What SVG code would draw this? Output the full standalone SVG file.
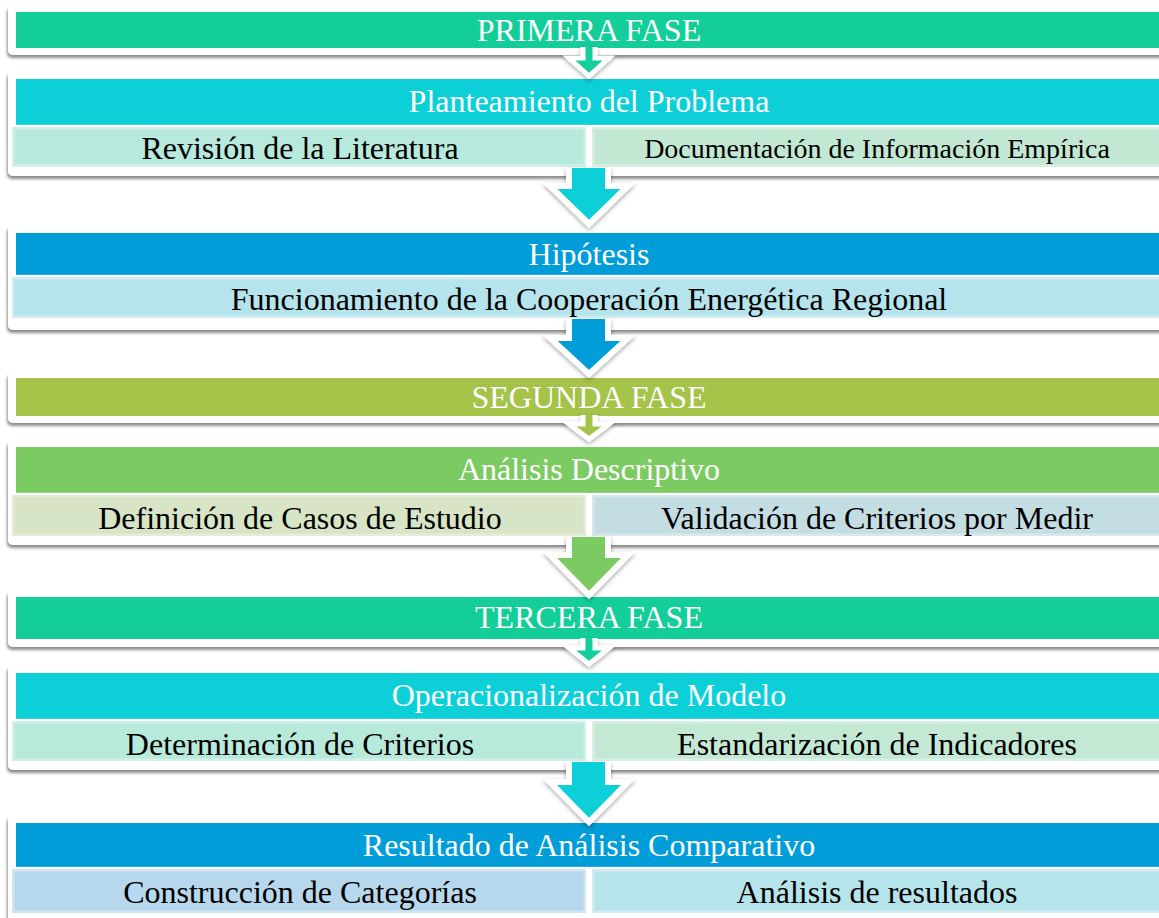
<svg xmlns="http://www.w3.org/2000/svg" width="1159" height="918" viewBox="0 0 1159 918">
<defs>
<filter id="sh" x="-5%" y="-20%" width="110%" height="150%">
<feDropShadow dx="-1" dy="3" stdDeviation="1.8" flood-color="#000" flood-opacity="0.45"/>
</filter>
<filter id="ash" x="-30%" y="-30%" width="160%" height="160%">
<feDropShadow dx="0" dy="2" stdDeviation="2" flood-color="#000" flood-opacity="0.35"/>
</filter>
<style>
.frame{fill:#fff;filter:url(#sh)}
.bar{stroke:none}
.sub{stroke:#fff;stroke-opacity:0.35;stroke-width:5}
.t{font-family:"Liberation Serif","Times New Roman",serif;font-size:32px;text-anchor:middle}
.w{fill:#fff}
.k{fill:#000}
.arrow{stroke:#fff;stroke-width:6;stroke-linejoin:miter;filter:url(#ash)}
.sm{stroke-width:5}
</style>
</defs>
<rect width="1159" height="918" fill="#fff"/>

<g id="b1">
<rect class="frame" x="8" y="5" width="1170" height="50" rx="5"/>
<rect class="bar" x="16" y="12" width="1150" height="36" fill="#13CE99"/>
<text class="t w" x="589" y="41">PRIMERA FASE</text>
</g>

<g id="b2">
<rect class="frame" x="8" y="71" width="1170" height="105" rx="5"/>
<rect class="bar" x="16" y="79" width="1150" height="46" fill="#0DCFD8"/>
<text class="t w" x="589" y="112">Planteamiento del Problema</text>
<rect class="sub" x="12" y="127" width="574" height="40" fill="#B7E9DC"/>
<rect class="sub" x="592" y="127" width="580" height="40" fill="#C2E8D3"/>
<text class="t k" x="300" y="159">Revisión de la Literatura</text>
<text class="t k" x="877" y="158" style="font-size:28px">Documentación de Información Empírica</text>
</g>

<g id="b3">
<rect class="frame" x="8" y="225" width="1170" height="105" rx="5"/>
<rect class="bar" x="16" y="233" width="1150" height="42" fill="#009DD9"/>
<text class="t w" x="589" y="265">Hipótesis</text>
<rect class="sub" x="12" y="277" width="1160" height="41" fill="#B6E4EC"/>
<text class="t k" x="589" y="310">Funcionamiento de la Cooperación Energética Regional</text>
</g>

<g id="b4">
<rect class="frame" x="8" y="372" width="1170" height="51" rx="5"/>
<rect class="bar" x="16" y="378" width="1150" height="38" fill="#A5C249"/>
<text class="t w" x="589" y="408">SEGUNDA FASE</text>
</g>

<g id="b5">
<rect class="frame" x="8" y="440" width="1170" height="105" rx="5"/>
<rect class="bar" x="16" y="447" width="1150" height="46" fill="#7CCA62"/>
<text class="t w" x="589" y="480">Análisis Descriptivo</text>
<rect class="sub" x="12" y="495" width="574" height="41" fill="#D7E4C5"/>
<rect class="sub" x="592" y="495" width="580" height="41" fill="#C3DDE2"/>
<text class="t k" x="300" y="529">Definición de Casos de Estudio</text>
<text class="t k" x="877" y="529">Validación de Criterios por Medir</text>
</g>

<g id="b6">
<rect class="frame" x="8" y="590" width="1170" height="57" rx="5"/>
<rect class="bar" x="16" y="597" width="1150" height="42" fill="#13CE99"/>
<text class="t w" x="589" y="628">TERCERA FASE</text>
</g>

<g id="b7">
<rect class="frame" x="8" y="665" width="1170" height="105" rx="5"/>
<rect class="bar" x="16" y="673" width="1150" height="46" fill="#0DCFD8"/>
<text class="t w" x="589" y="706">Operacionalización de Modelo</text>
<rect class="sub" x="12" y="721" width="574" height="40" fill="#B8EADC"/>
<rect class="sub" x="592" y="721" width="580" height="40" fill="#C3E9D4"/>
<text class="t k" x="300" y="755">Determinación de Criterios</text>
<text class="t k" x="877" y="755">Estandarización de Indicadores</text>
</g>

<g id="b8">
<rect class="frame" x="8" y="815" width="1170" height="110" rx="5"/>
<rect class="bar" x="16" y="823" width="1150" height="44" fill="#009DD9"/>
<text class="t w" x="589" y="856">Resultado de Análisis Comparativo</text>
<rect class="sub" x="12" y="869" width="574" height="44" fill="#B7D7EC"/>
<rect class="sub" x="592" y="869" width="580" height="44" fill="#B6E4EB"/>
<text class="t k" x="300" y="903">Construcción de Categorías</text>
<text class="t k" x="877" y="903">Análisis de resultados</text>
</g>

<g id="connectors">
<path class="arrow sm" fill="#13CE99" d="M583,47 V58 H569 L589,76 L609,58 H595 V47"/>
<path class="arrow" fill="#0DCFD8" d="M569,168 V186 H550 L589,224 L628,186 H608 V168"/>
<path class="arrow" fill="#009DD9" d="M569,319 V338 H550 L589,374 L628,338 H608 V319"/>
<path class="arrow sm" fill="#A5C249" d="M583,415 V424 H569 L589,439 L609,424 H595 V415"/>
<path class="arrow" fill="#7CCA62" d="M569,537 V555 H550 L589,595 L628,555 H608 V537"/>
<path class="arrow sm" fill="#13CE99" d="M583,638 V648 H569 L589,664 L609,648 H595 V638"/>
<path class="arrow" fill="#0DCFD8" d="M569,762 V782 H550 L589,822 L628,782 H608 V762"/>
</g>
</svg>
